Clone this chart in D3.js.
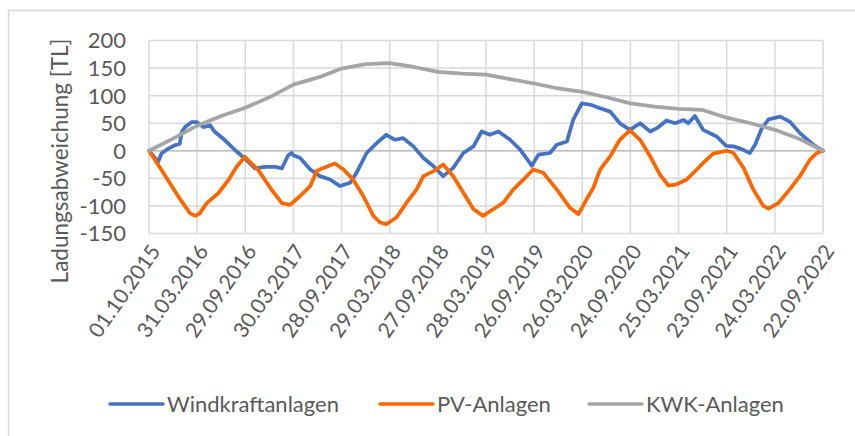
<!DOCTYPE html>
<html>
<head>
<meta charset="utf-8">
<script src="https://cdn.jsdelivr.net/npm/d3@7"></script>
<style>
  body { margin: 0; background: #fff; }
  text { font-family: Lato, "Liberation Sans", sans-serif; fill: #595959; }
</style>
</head>
<body>
<div id="chart"></div>
<script>
// x axis labels, one every 182 days
var tickLabels = ["01.10.2015", "31.03.2016", "29.09.2016", "30.03.2017", "28.09.2017",
    "29.03.2018", "27.09.2018", "28.03.2019", "26.09.2019", "26.03.2020",
    "24.09.2020", "25.03.2021", "23.09.2021", "24.03.2022", "22.09.2022"];
var yTicks = [-150, -100, -50, 0, 50, 100, 150, 200];
var seriesNames = ["Windkraftanlagen", "PV-Anlagen", "KWK-Anlagen"];

// [position in label steps, deviation in TL]
var windValues = [[0, 0], [0.19, -20], [0.26, -5], [0.40, 4], [0.54, 10], [0.64, 13], [0.68, 34],
    [0.75, 43], [0.89, 52], [0.99, 52], [1.13, 43], [1.27, 46], [1.37, 34], [1.58, 19], [1.79, 1],
    [1.99, -14], [2.20, -32], [2.41, -29], [2.62, -29], [2.76, -32], [2.89, -8], [2.96, -4],
    [3.0, -8], [3.14, -13], [3.35, -34], [3.55, -46], [3.76, -52], [3.97, -64], [4.18, -58],
    [4.31, -40], [4.52, -4], [4.73, 14], [4.93, 29], [5.11, 20], [5.28, 23], [5.49, 8], [5.70, -13],
    [5.91, -28], [6.11, -46], [6.32, -31], [6.53, -4], [6.74, 8], [6.91, 35], [7.08, 29], [7.26, 35],
    [7.50, 20], [7.71, 2], [7.95, -27], [8.09, -7], [8.33, -4], [8.47, 11], [8.68, 17], [8.81, 56],
    [8.99, 86], [9.19, 83], [9.37, 77], [9.58, 71], [9.78, 50], [9.99, 38], [10.20, 50], [10.41, 35],
    [10.55, 41], [10.75, 55], [10.93, 50], [11.10, 56], [11.20, 50], [11.34, 63], [11.51, 38],
    [11.79, 26], [11.99, 9], [12.14, 8], [12.31, 3], [12.48, -4], [12.59, 11], [12.73, 41],
    [12.87, 57], [13.11, 62], [13.31, 53], [13.52, 32], [13.80, 11], [14, 0]];

var pvValues = [[0, 0], [0.26, -35], [0.61, -83], [0.85, -113], [0.96, -118], [1.05, -114],
    [1.20, -95], [1.44, -77], [1.65, -53], [1.82, -29], [1.99, -11], [2.27, -35], [2.55, -71],
    [2.76, -95], [2.93, -98], [3.14, -82], [3.35, -64], [3.48, -37], [3.62, -31], [3.86, -23],
    [4.04, -34], [4.24, -52], [4.45, -82], [4.66, -118], [4.80, -130], [4.93, -133], [5.14, -121],
    [5.35, -94], [5.56, -70], [5.70, -46], [5.91, -37], [6.11, -25], [6.32, -46], [6.53, -76],
    [6.74, -106], [6.94, -118], [7.15, -106], [7.36, -94], [7.57, -70], [7.78, -52], [7.98, -34],
    [8.19, -40], [8.47, -70], [8.74, -103], [8.92, -115], [9.09, -88], [9.23, -67], [9.37, -34],
    [9.58, -10], [9.78, 20], [9.99, 37], [10.20, 20], [10.41, -10], [10.61, -43], [10.79, -63],
    [10.96, -61], [11.17, -52], [11.38, -34], [11.51, -22], [11.72, -5], [12.00, 0], [12.14, -4],
    [12.35, -31], [12.55, -70], [12.76, -100], [12.87, -105], [13.07, -95], [13.31, -70],
    [13.52, -46], [13.73, -16], [13.87, -4], [14, 0]];

var kwkValues = [[0, 0], [0.5, 22], [0.99, 45], [1.5, 63], [2, 78], [2.5, 97], [3, 120], [3.55, 134],
    [4, 149], [4.5, 157], [5, 159], [5.5, 152], [6, 143], [6.5, 140], [7, 138], [7.5, 130], [8, 122],
    [8.5, 113], [9, 107], [9.5, 97], [10, 86], [10.5, 80], [11, 76], [11.5, 74], [12, 60], [12.5, 50],
    [13, 38], [13.5, 22], [14, 0]];

var colors = ["#4472C4", "#FF6600", "#A5A5A5"];

var width = 855, height = 436;
var plot = { left: 149, right: 823, top: 40.5, bottom: 233.5 };

var svg = d3.select("#chart").append("svg")
    .attr("width", width)
    .attr("height", height);

// chart border
svg.append("rect")
    .attr("x", 8.5).attr("y", 10.5)
    .attr("width", 900).attr("height", 500)
    .attr("fill", "none")
    .attr("stroke", "#D9D9D9")
    .attr("stroke-width", 1.5);

var xScale = d3.scaleLinear()
    .domain([0, tickLabels.length - 1])
    .range([plot.left, plot.right]);

var yScale = d3.scaleLinear()
    .domain([-150, 200])
    .range([plot.bottom, plot.top]);

// gridlines
svg.append("g").selectAll("line")
    .data(yTicks)
    .enter().append("line")
    .attr("x1", plot.left).attr("x2", plot.right)
    .attr("y1", function (d) { return yScale(d); })
    .attr("y2", function (d) { return yScale(d); })
    .attr("stroke", "#D9D9D9")
    .attr("stroke-width", 1.5);

svg.append("g").selectAll("line")
    .data(tickLabels)
    .enter().append("line")
    .attr("x1", function (d, i) { return xScale(i); })
    .attr("x2", function (d, i) { return xScale(i); })
    .attr("y1", plot.top).attr("y2", plot.bottom)
    .attr("stroke", "#D9D9D9")
    .attr("stroke-width", 1.5);

// zero line
svg.append("line")
    .attr("x1", plot.left).attr("x2", plot.right)
    .attr("y1", yScale(0)).attr("y2", yScale(0))
    .attr("stroke", "#BFBFBF")
    .attr("stroke-width", 1.5);

// y tick labels
svg.append("g").selectAll("text")
    .data(yTicks)
    .enter().append("text")
    .attr("x", 126)
    .attr("y", function (d) { return yScale(d); })
    .attr("dy", "0.36em")
    .attr("text-anchor", "end")
    .attr("font-size", 22)
    .text(function (d) { return d; });

// x tick labels
svg.append("g").selectAll("text")
    .data(tickLabels)
    .enter().append("text")
    .attr("transform", function (d, i) {
        return "translate(" + (xScale(i) + 6) + "," + 247 + ") rotate(-55)";
    })
    .attr("dy", "0.36em")
    .attr("text-anchor", "end")
    .attr("font-size", 21)
    .text(function (d) { return d; });

// y title
svg.append("text")
    .attr("transform", "translate(68,161) rotate(-90)")
    .attr("text-anchor", "middle")
    .attr("font-size", 22.5)
    .text("Ladungsabweichung [TL]");

// lines
var line = d3.line()
    .x(function (d) { return xScale(d[0]); })
    .y(function (d) { return yScale(d[1]); });

[windValues, pvValues, kwkValues].forEach(function (s, i) {
    svg.append("path")
        .datum(s)
        .attr("d", line)
        .attr("fill", "none")
        .attr("stroke", colors[i])
        .attr("stroke-width", 3.75)
        .attr("stroke-linejoin", "round")
        .attr("stroke-linecap", "round");
});

// legend
var legendX = [110, 380, 589];
var legend = svg.append("g").selectAll("g")
    .data(seriesNames)
    .enter().append("g")
    .attr("transform", function (d, i) { return "translate(" + legendX[i] + ",404)"; });

legend.append("line")
    .attr("x1", 0).attr("x2", 53)
    .attr("stroke", function (d, i) { return colors[i]; })
    .attr("stroke-width", 3.5)
    .attr("stroke-linecap", "round");

legend.append("text")
    .attr("x", 57)
    .attr("dy", "0.36em")
    .attr("font-size", 22)
    .text(function (d) { return d; });
</script>
</body>
</html>
